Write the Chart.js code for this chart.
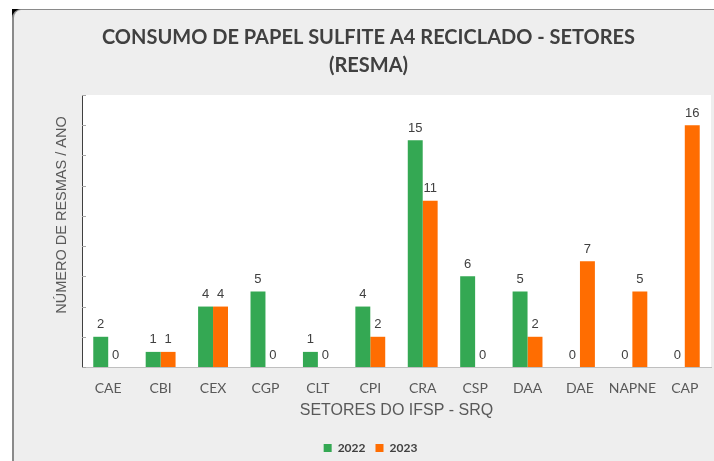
<!DOCTYPE html>
<html>
<head>
<meta charset="utf-8">
<script src="https://cdn.jsdelivr.net/npm/chart.js@4/dist/chart.umd.min.js"></script>
<style>
  html, body { margin: 0; padding: 0; background: #ffffff; }
  body { width: 714px; height: 461px; position: relative; overflow: hidden; }
  .corner { position: absolute; left: 12px; top: 9px; width: 10px; height: 10px; background: #000; }
  .frame {
    position: absolute; left: 12px; top: 9px; right: 0; bottom: 0;
    background: #eeeeee;
    border-top: 1px solid #8a8a8a; border-left: 2px solid #8a8a8a;
    border-top-left-radius: 9px;
  }
  canvas { position: absolute; left: 0; top: 0; }
</style>
</head>
<body>
<div class="corner"></div>
<div class="frame"></div>
<canvas id="chart" width="714" height="461"></canvas>
<script>
// Setores do campus e consumo anual (resmas)
const setores = ['CAE', 'CBI', 'CEX', 'CGP', 'CLT', 'CPI', 'CRA', 'CSP', 'DAA', 'DAE', 'NAPNE', 'CAP'];
const consumo2022 = [2, 1, 4, 5, 1, 4, 15, 6, 5, 0, 0, 0];
const consumo2023 = [0, 1, 4, 0, 0, 2, 11, 0, 2, 7, 5, 16];
const serieNomes = ['2022', '2023'];
const tituloLinhas = ['CONSUMO DE PAPEL SULFITE A4 RECICLADO - SETORES', '(RESMA)'];
const tituloEixoY = 'NÚMERO DE RESMAS / ANO';
const tituloEixoX = 'SETORES DO IFSP - SRQ';

const VERDE = '#34a853';
const LARANJA = '#ff6d01';

// White plotting area behind the bars
const fundoArea = {
  id: 'fundoArea',
  beforeDraw(chart) {
    const { ctx, chartArea: a } = chart;
    ctx.save();
    ctx.fillStyle = '#ffffff';
    ctx.fillRect(a.left, a.top, a.right - a.left, a.bottom - a.top);
    ctx.restore();
  }
};

// Short tick marks on the inner side of the value axis
const marcasY = {
  id: 'marcasY',
  afterDraw(chart) {
    const y = chart.scales.y;
    const ctx = chart.ctx;
    ctx.save();
    ctx.strokeStyle = '#a6a6a6';
    ctx.lineWidth = 1;
    y.ticks.forEach(t => {
      const py = Math.round(y.getPixelForValue(t.value)) + 0.5;
      ctx.beginPath();
      ctx.moveTo(y.right, py);
      ctx.lineTo(y.right + 4, py);
      ctx.stroke();
    });
    ctx.restore();
  }
};

// Value labels above each bar
const rotulos = {
  id: 'rotulos',
  afterDatasetsDraw(chart) {
    const ctx = chart.ctx;
    ctx.save();
    ctx.font = '13px "Liberation Sans", Arial, sans-serif';
    ctx.fillStyle = '#404040';
    ctx.textAlign = 'center';
    ctx.textBaseline = 'middle';
    chart.data.datasets.forEach((ds, i) => {
      chart.getDatasetMeta(i).data.forEach((bar, j) => {
        ctx.fillText(String(ds.data[j]), bar.x, bar.y - 12);
      });
    });
    ctx.restore();
  }
};

// Rotated title for the value axis
const tituloY = {
  id: 'tituloY',
  afterDraw(chart) {
    const ctx = chart.ctx;
    ctx.save();
    ctx.translate(62, 215);
    ctx.rotate(-Math.PI / 2);
    ctx.font = '14.5px "Liberation Sans", Arial, sans-serif';
    ctx.fillStyle = '#595959';
    ctx.textAlign = 'center';
    ctx.textBaseline = 'middle';
    ctx.fillText(tituloEixoY, 0, 0);
    ctx.restore();
  }
};

// Nudge title and legend toward the plot centre
const deslocar = {
  id: 'deslocar',
  afterLayout(chart) {
    if (chart.titleBlock) { chart.titleBlock.left += 13; chart.titleBlock.right += 13; }
    if (chart.legend) {
      chart.legend.left += 15; chart.legend.right += 15;
      chart.legend.top += 3; chart.legend.bottom += 3;
      chart.legend.adjustHitBoxes && chart.legend.adjustHitBoxes();
    }
  }
};

new Chart(document.getElementById('chart'), {
  type: 'bar',
  data: {
    labels: setores,
    datasets: [
      { label: serieNomes[0], data: consumo2022, backgroundColor: VERDE },
      { label: serieNomes[1], data: consumo2023, backgroundColor: LARANJA }
    ]
  },
  options: {
    responsive: false,
    animation: false,
    devicePixelRatio: 1,
    layout: { padding: { left: 0, right: 3, top: 0, bottom: 0 } },
    datasets: { bar: { barPercentage: 1, categoryPercentage: 0.57 } },
    scales: {
      x: {
        afterFit(s) { s.height = 62; },
        grid: { display: false },
        border: { display: true, color: '#bfbfbf', width: 1 },
        ticks: {
          color: '#595959', padding: 5, maxRotation: 0, minRotation: 0, autoSkip: false,
          font: { family: 'Lato', size: 14 }
        },
        title: {
          display: true, text: tituloEixoX, color: '#595959',
          font: { family: '"Liberation Sans", Arial', size: 16 },
          padding: { top: 0, bottom: 9 }
        }
      },
      y: {
        min: 0, max: 18,
        afterFit(s) { s.width = 82; },
        ticks: { display: false, stepSize: 2 },
        grid: { display: false },
        border: { display: true, color: '#404040', width: 1 }
      }
    },
    plugins: {
      tooltip: { enabled: false },
      title: {
        display: true,
        text: tituloLinhas,
        color: '#404040',
        font: { family: 'Lato', size: 20, weight: 'bold', lineHeight: 1.4 },
        padding: { top: 24, bottom: 15 }
      },
      legend: {
        position: 'bottom',
        labels: {
          boxWidth: 8, boxHeight: 8, padding: 10,
          color: '#404040',
          font: { family: 'Lato', size: 12, weight: 'bold' }
        }
      }
    }
  },
  plugins: [fundoArea, marcasY, rotulos, tituloY, deslocar]
});
</script>
</body>
</html>
